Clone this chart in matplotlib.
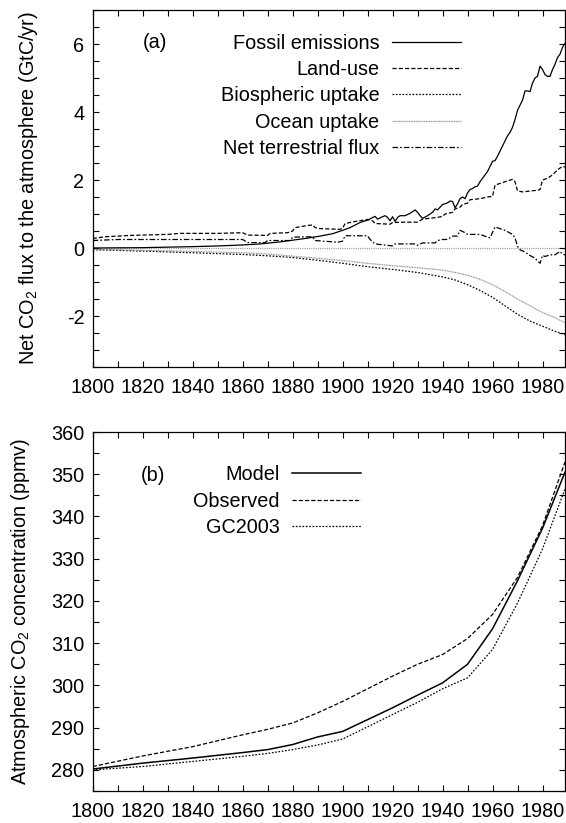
import matplotlib
matplotlib.use("Agg")
import matplotlib.pyplot as plt
from matplotlib.ticker import MultipleLocator, FuncFormatter

plt.rcParams['font.family'] = ['Liberation Sans', 'DejaVu Sans']
plt.rcParams['font.size'] = 14.3
plt.rcParams['lines.scale_dashes'] = False
plt.rcParams['axes.unicode_minus'] = False
plt.rcParams['mathtext.fontset'] = 'custom'
plt.rcParams['mathtext.rm'] = 'Liberation Sans'

# ---- panel (a): fluxes (GtC/yr) ----
fossil_years = [1800, 1820, 1840, 1850, 1860, 1867, 1875, 1880, 1885, 1891, 1896, 1900,
                1903, 1907, 1910, 1913, 1914, 1916, 1917, 1918, 1919, 1920, 1921, 1922,
                1923, 1925, 1927, 1929, 1930, 1931, 1932, 1934, 1936, 1937, 1938, 1939,
                1940, 1941, 1942, 1943, 1944, 1945, 1946, 1947, 1948, 1949, 1950, 1951,
                1952, 1953, 1954, 1955, 1956, 1957, 1958, 1959, 1960, 1961, 1962, 1963,
                1964, 1965, 1966, 1967, 1968, 1969, 1970, 1971, 1972, 1973, 1974, 1975,
                1976, 1977, 1978, 1979, 1980, 1981, 1982, 1983, 1984, 1985, 1986, 1987,
                1988, 1989]
fossil = [0.0, 0.01, 0.04, 0.06, 0.09, 0.12, 0.18, 0.23, 0.28, 0.35, 0.42, 0.52,
          0.6, 0.75, 0.82, 0.93, 0.85, 0.92, 0.95, 0.9, 0.8, 0.92, 0.78, 0.9,
          0.95, 0.95, 1.02, 1.12, 1.05, 0.95, 0.87, 0.95, 1.05, 1.15, 1.12, 1.2,
          1.28, 1.3, 1.33, 1.38, 1.37, 1.18, 1.3, 1.45, 1.5, 1.45, 1.62, 1.72,
          1.75, 1.8, 1.82, 1.95, 2.05, 2.15, 2.25, 2.4, 2.55, 2.57, 2.7, 2.85,
          3.0, 3.15, 3.3, 3.4, 3.55, 3.78, 4.05, 4.2, 4.35, 4.62, 4.62, 4.6,
          4.85, 5.0, 5.05, 5.35, 5.25, 5.1, 5.05, 5.05, 5.25, 5.4, 5.6, 5.7,
          5.9, 6.02]

landuse_years = [1800, 1805, 1815, 1830, 1835, 1850, 1860, 1862, 1870, 1871, 1878, 1880,
                 1881, 1885, 1888, 1889, 1891, 1899, 1900, 1901, 1905, 1910, 1912, 1913,
                 1919, 1920, 1925, 1930, 1932, 1938, 1940, 1941, 1944, 1945, 1947, 1948,
                 1950, 1951, 1955, 1958, 1960, 1961, 1965, 1968, 1969, 1970, 1972, 1978,
                 1979, 1980, 1982, 1984, 1986, 1988, 1989]
landuse = [0.28, 0.33, 0.37, 0.4, 0.43, 0.43, 0.45, 0.38, 0.37, 0.43, 0.45, 0.5,
           0.6, 0.65, 0.68, 0.6, 0.57, 0.55, 0.58, 0.72, 0.78, 0.84, 0.8, 0.72,
           0.7, 0.75, 0.76, 0.76, 0.85, 0.9, 0.93, 1.0, 1.05, 1.15, 1.2, 1.28,
           1.32, 1.42, 1.45, 1.5, 1.52, 1.85, 1.95, 2.02, 1.95, 1.68, 1.65, 1.7,
           1.72, 2.0, 2.05, 2.15, 2.3, 2.4, 2.38]

bio_years = [1800, 1820, 1840, 1860, 1870, 1880, 1890, 1900, 1910, 1920, 1930, 1940,
             1945, 1950, 1955, 1960, 1965, 1970, 1975, 1980, 1985, 1989]
bio_uptake = [-0.05, -0.09, -0.14, -0.19, -0.23, -0.28, -0.36, -0.45, -0.55, -0.63, -0.72, -0.85,
              -0.94, -1.08, -1.25, -1.45, -1.7, -1.95, -2.15, -2.3, -2.45, -2.55]

ocean_years = [1800, 1820, 1840, 1860, 1870, 1880, 1890, 1900, 1910, 1920, 1930, 1940,
               1945, 1950, 1955, 1960, 1965, 1970, 1975, 1980, 1985, 1989]
ocean_uptake = [-0.04, -0.07, -0.1, -0.14, -0.18, -0.24, -0.3, -0.37, -0.45, -0.52, -0.58, -0.65,
                -0.72, -0.8, -0.92, -1.08, -1.28, -1.5, -1.7, -1.9, -2.05, -2.2]

net_years = [1800, 1810, 1840, 1860, 1862, 1869, 1870, 1879, 1880, 1888, 1889, 1898,
             1900, 1901, 1910, 1911, 1913, 1920, 1921, 1929, 1930, 1932, 1937, 1938,
             1940, 1942, 1944, 1946, 1947, 1949, 1950, 1955, 1958, 1959, 1961, 1965,
             1968, 1969, 1970, 1971, 1973, 1975, 1977, 1979, 1980, 1981, 1983, 1985,
             1987, 1988, 1989]
net_terr = [0.22, 0.25, 0.25, 0.25, 0.16, 0.16, 0.22, 0.22, 0.32, 0.33, 0.22, 0.17,
            0.2, 0.36, 0.36, 0.25, 0.12, 0.06, 0.12, 0.12, 0.08, 0.15, 0.15, 0.22,
            0.25, 0.25, 0.35, 0.35, 0.52, 0.45, 0.4, 0.4, 0.32, 0.3, 0.62, 0.52,
            0.4, 0.3, 0.05, -0.05, -0.12, -0.22, -0.3, -0.45, -0.22, -0.25, -0.2, -0.2,
            -0.1, -0.18, -0.2]

# ---- panel (b): CO2 concentration (ppmv) ----
conc_years = [1800, 1820, 1840, 1860, 1870, 1880, 1890, 1900, 1910, 1920, 1930, 1940,
              1950, 1960, 1970, 1980, 1989]
model = [280.2, 281.6, 282.8, 284.1, 284.8, 286.0, 287.8, 289.1, 291.9, 294.7, 297.7, 300.6,
         305.0, 313.4, 324.8, 337.2, 350.5]
observed = [280.8, 283.3, 285.5, 288.3, 289.6, 291.1, 293.5, 296.2, 299.2, 302.2, 305.0, 307.3,
            311.1, 316.8, 325.6, 337.8, 352.9]
gc2003 = [280.0, 280.8, 282.0, 283.2, 283.9, 284.8, 285.9, 287.3, 290.2, 293.1, 296.0, 299.2,
          301.8, 308.5, 319.5, 332.3, 346.5]

W, H = 566, 823
fig = plt.figure(figsize=(W / 100, H / 100), dpi=100)

left = 92.7 / W
width = (565 - 92.7) / W
ax1 = fig.add_axes([left, 1 - 367 / H, width, (367 - 10) / H])
ax2 = fig.add_axes([left, 1 - 791 / H, width, (791 - 432) / H])

lw = 0.9
ax1.axhline(0, color='0.55', lw=lw, ls=(0, (0.7, 0.9)), zorder=1)
ax1.plot(fossil_years, fossil, color='black', lw=lw, label='Fossil emissions')
ax1.plot(landuse_years, landuse, color='black', lw=lw, ls=(0, (3, 1.5)), label='Land-use')
ax1.plot(bio_years, bio_uptake, color='black', lw=lw, ls=(0, (1.2, 1.2)), label='Biospheric uptake')
ax1.plot(ocean_years, ocean_uptake, color='0.55', lw=lw, ls=(0, (0.7, 0.5)), label='Ocean uptake')
ax1.plot(net_years, net_terr, color='black', lw=lw, ls=(0, (4, 1.5, 1.2, 1.5)), label='Net terrestrial flux')

ax2.plot(conc_years, model, color='black', lw=1.1, label='Model')
ax2.plot(conc_years, observed, color='black', lw=lw, ls=(0, (3, 1.5)), label='Observed')
ax2.plot(conc_years, gc2003, color='black', lw=lw, ls=(0, (1.2, 1.2)), label='GC2003')

year_fmt = FuncFormatter(lambda v, p: f"{int(round(v))}")
for ax in (ax1, ax2):
    ax.set_xlim(1800, 1989)
    ax.xaxis.set_major_locator(MultipleLocator(20))
    ax.xaxis.set_minor_locator(MultipleLocator(10))
    ax.xaxis.set_major_formatter(year_fmt)
    ax.tick_params(which='both', direction='in', top=True, right=True,
                   length=4, width=0.8, labelsize=14.3)
    ax.tick_params(axis='x', pad=8)
    ax.tick_params(axis='y', pad=6)
    for s in ax.spines.values():
        s.set_linewidth(0.9)

ax1.set_ylim(-3.5, 7)
ax1.yaxis.set_major_locator(MultipleLocator(2))
ax1.yaxis.set_minor_locator(MultipleLocator(0.5))
ax1.set_ylabel('Net CO$_2$ flux to the atmosphere (GtC/yr)', fontsize=14.3)
ax1.yaxis.set_label_coords(-0.112, 0.5)

ax2.set_ylim(275, 360)
ax2.yaxis.set_major_locator(MultipleLocator(10))
ax2.yaxis.set_minor_locator(MultipleLocator(5))
ax2.set_ylabel('Atmospheric CO$_2$ concentration (ppmv)', fontsize=14.3)
ax2.yaxis.set_label_coords(-0.128, 0.5)

ax1.text(0.132, 0.908, '(a)', transform=ax1.transAxes, ha='center', va='center', fontsize=14.3)
ax2.text(0.128, 0.880, '(b)', transform=ax2.transAxes, ha='center', va='center', fontsize=14.3)

leg_kw = dict(markerfirst=False, frameon=False, loc='upper right', borderpad=0,
              borderaxespad=0, handlelength=3.45, handletextpad=0.65, labelspacing=0.37,
              fontsize=14.3)
ax1.legend(bbox_to_anchor=((461 - 92.7) / 472.3, 0.934), **leg_kw)
ax2.legend(bbox_to_anchor=((361 - 92.7) / 472.3, 0.907), **leg_kw)

fig.savefig('out.png', dpi=100)
